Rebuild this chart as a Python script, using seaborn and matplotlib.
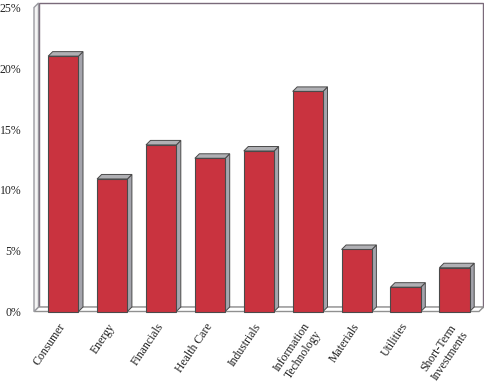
import matplotlib
matplotlib.use("Agg")
import matplotlib.pyplot as plt
from matplotlib.patches import Polygon
from matplotlib.transforms import ScaledTranslation
import seaborn as sns
import pandas as pd

categories = ["Consumer", "Energy", "Financials", "Health Care", "Industrials",
              "Information\nTechnology", "Materials", "Utilities", "Short-Term\nInvestments"]
values = [21.0, 10.9, 13.7, 12.6, 13.2, 18.1, 5.1, 2.0, 3.6]
yticks = [0, 5, 10, 15, 20, 25]
ytick_labels = ["0%", "5%", "10%", "15%", "20%", "25%"]

sns.set_style("white")
plt.rcParams["font.family"] = ["Liberation Serif", "DejaVu Serif"]

W, H = 485, 387
fig = plt.figure(figsize=(W / 100, H / 100), dpi=100)
left_px, right_px = 34, 479
bot_px, top_px = 311.5, 7.5
ax = fig.add_axes([left_px / W, (H - bot_px) / H, (right_px - left_px) / W, (bot_px - top_px) / H])

df = pd.DataFrame({"cat": categories, "val": values})
FRONT = "#c9333f"
SIDE = "#a4a4ac"
TOP = "#b0b0b4"
EDGE = "#4a4a4a"
sns.barplot(data=df, x="cat", y="val", color=FRONT, saturation=1, width=0.62,
            edgecolor=EDGE, linewidth=0.8, ax=ax, zorder=5)
bars = list(ax.patches)

xmin, xmax = -0.6, 8.5
ax.set_xlim(xmin, xmax)
ax.set_ylim(0, 25)

fig.canvas.draw()
px_per_x = (ax.transData.transform((1, 0))[0] - ax.transData.transform((0, 0))[0])
px_per_y = (ax.transData.transform((0, 1))[1] - ax.transData.transform((0, 0))[1])
dx = 4.5 / px_per_x
dy = 4.5 / px_per_y

# back wall
ax.add_patch(Polygon([(xmin + dx, dy), (xmax + dx, dy), (xmax + dx, 25 + dy), (xmin + dx, 25 + dy)],
                     closed=True, facecolor="white", edgecolor="#7a6a7a", linewidth=1.0,
                     clip_on=False, zorder=0))
# floor
ax.add_patch(Polygon([(xmin, 0), (xmax, 0), (xmax + dx, dy), (xmin + dx, dy)],
                     closed=True, facecolor="white", edgecolor="#909090", linewidth=1.0,
                     clip_on=False, zorder=1))
# left wall
ax.add_patch(Polygon([(xmin, 0), (xmin, 25), (xmin + dx, 25 + dy), (xmin + dx, dy)],
                     closed=True, facecolor="#f4f4f4", edgecolor="#9a9aa0", linewidth=1.0,
                     clip_on=False, zorder=1))

for p in bars:
    x0 = p.get_x()
    w = p.get_width()
    h = p.get_height()
    x1 = x0 + w
    ax.add_patch(Polygon([(x1, 0), (x1, h), (x1 + dx, h + dy), (x1 + dx, dy)], closed=True,
                         facecolor=SIDE, edgecolor=EDGE, linewidth=0.7, clip_on=False, zorder=4))
    ax.add_patch(Polygon([(x0, h), (x1, h), (x1 + dx, h + dy), (x0 + dx, h + dy)], closed=True,
                         facecolor=TOP, edgecolor=EDGE, linewidth=0.7, clip_on=False, zorder=4))
    p.set_clip_on(False)

for s in ax.spines.values():
    s.set_visible(False)

ax.set_yticks(yticks)
ax.set_yticklabels(ytick_labels, fontsize=8.5, color="#222222")
ax.tick_params(axis="y", length=0, pad=9)
ax.tick_params(axis="x", length=0, pad=6)
ax.set_xticks(range(len(categories)))
ax.set_xticklabels(categories, rotation=56, ha="right", va="top", rotation_mode="anchor",
                   fontsize=8.5, color="#222222", multialignment="center")
shift = ScaledTranslation(-5 / 100, -1 / 100, fig.dpi_scale_trans)
for lab in ax.get_xticklabels():
    lab.set_transform(lab.get_transform() + shift)
ax.set_xlabel("")
ax.set_ylabel("")
ax.grid(False)
ax.patch.set_alpha(0)

fig.savefig("out.png", dpi=100)
